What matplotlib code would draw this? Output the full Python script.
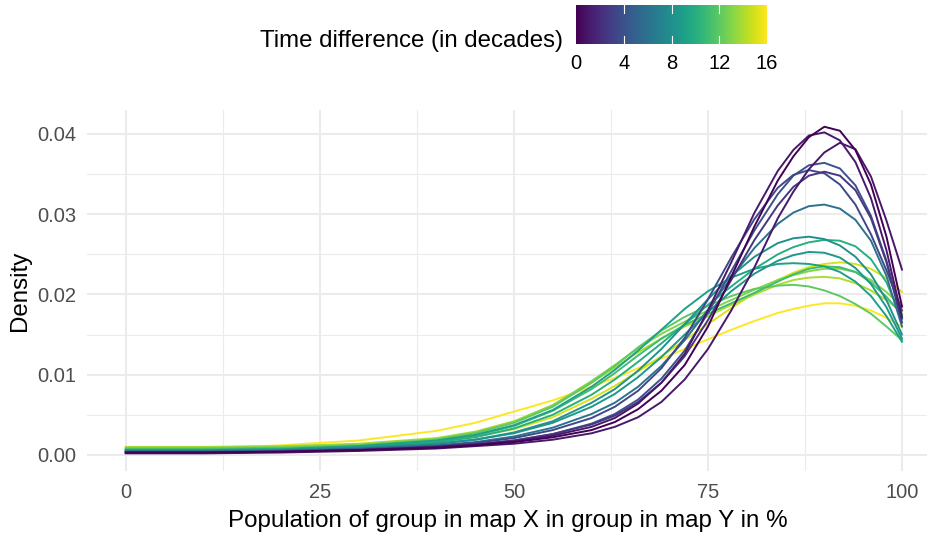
import numpy as np
import matplotlib
matplotlib.use("Agg")
import matplotlib.pyplot as plt

# ---- data (density at shared x positions, in %) ----
share_x = [0, 10, 20, 30, 40, 45, 50, 55, 60, 63, 66, 69, 72, 75, 78, 81, 84, 86, 88, 90, 92, 94, 96, 98, 100]

time_diff = [0, 1, 1, 2.5, 3.5, 4, 6, 8, 8.5, 9, 10, 11, 12, 13, 14, 15, 16]

dens_0 = [.0003, .0003, .0004, .0006, .0009, .0012, .0016, .0022, .0031, .0041, .0057, .0080, .0112, .0160, .0222, .0285, .0342, .0372, .0396, .0409, .0404, .0380, .0337, .0272, .0185]
dens_1 = [.0003, .0003, .0004, .0006, .0010, .0013, .0017, .0024, .0035, .0046, .0064, .0090, .0126, .0180, .0240, .0302, .0354, .0380, .0398, .0402, .0392, .0365, .0320, .0255, .0172]
dens_2 = [.0002, .0002, .0003, .0005, .0008, .0011, .0014, .0019, .0027, .0035, .0047, .0066, .0094, .0132, .0180, .0234, .0295, .0328, .0356, .0377, .0389, .0381, .0347, .0292, .0231]
dens_3 = [.0003, .0003, .0004, .0006, .0010, .0013, .0018, .0026, .0038, .0049, .0066, .0090, .0123, .0168, .0218, .0268, .0311, .0334, .0348, .0353, .0348, .0330, .0295, .0240, .0165]
dens_4 = [.0004, .0004, .0005, .0007, .0011, .0015, .0021, .0031, .0046, .0060, .0080, .0108, .0146, .0194, .0246, .0294, .0333, .0349, .0355, .0351, .0337, .0312, .0275, .0230, .0180]
dens_5 = [.0003, .0003, .0004, .0006, .0010, .0013, .0018, .0026, .0039, .0051, .0069, .0095, .0130, .0177, .0229, .0280, .0325, .0348, .0361, .0364, .0357, .0336, .0298, .0242, .0170]
dens_6 = [.0004, .0004, .0005, .0008, .0012, .0016, .0023, .0034, .0051, .0065, .0085, .0111, .0143, .0181, .0221, .0258, .0288, .0302, .0310, .0312, .0307, .0293, .0267, .0223, .0160]
dens_7 = [.0005, .0005, .0006, .0009, .0014, .0019, .0028, .0042, .0065, .0082, .0105, .0132, .0163, .0194, .0223, .0247, .0264, .0270, .0272, .0269, .0261, .0247, .0225, .0193, .0150]
dens_8 = [.0005, .0005, .0006, .0009, .0014, .0019, .0027, .0040, .0060, .0076, .0097, .0122, .0150, .0178, .0204, .0226, .0242, .0249, .0253, .0252, .0246, .0233, .0213, .0184, .0145]
dens_9 = [.0006, .0006, .0007, .0011, .0018, .0025, .0037, .0056, .0085, .0106, .0130, .0156, .0182, .0204, .0221, .0232, .0238, .0239, .0238, .0235, .0228, .0216, .0198, .0173, .0141]
dens_10 = [.0006, .0006, .0007, .0010, .0016, .0022, .0033, .0050, .0075, .0094, .0116, .0139, .0163, .0187, .0210, .0232, .0250, .0259, .0265, .0268, .0267, .0260, .0244, .0215, .0170]
dens_11 = [.0007, .0007, .0008, .0011, .0017, .0024, .0036, .0055, .0082, .0102, .0124, .0145, .0162, .0176, .0189, .0202, .0216, .0225, .0232, .0235, .0234, .0228, .0215, .0197, .0175]
dens_12 = [.0008, .0008, .0009, .0012, .0019, .0027, .0040, .0060, .0090, .0111, .0134, .0155, .0172, .0186, .0198, .0207, .0211, .0212, .0210, .0205, .0198, .0188, .0176, .0160, .0143]
dens_13 = [.0009, .0009, .0010, .0013, .0020, .0028, .0041, .0062, .0092, .0112, .0133, .0151, .0166, .0180, .0193, .0206, .0218, .0224, .0229, .0232, .0232, .0228, .0218, .0203, .0185]
dens_14 = [.0010, .0010, .0011, .0014, .0021, .0029, .0042, .0062, .0090, .0109, .0128, .0145, .0160, .0173, .0187, .0200, .0212, .0218, .0221, .0222, .0220, .0214, .0205, .0193, .0178]
dens_15 = [.0007, .0007, .0008, .0011, .0017, .0023, .0032, .0047, .0070, .0086, .0104, .0123, .0143, .0163, .0183, .0202, .0218, .0227, .0234, .0238, .0240, .0238, .0232, .0220, .0203]
dens_16 = [.0008, .0009, .0012, .0018, .0030, .0040, .0054, .0068, .0085, .0096, .0108, .0120, .0132, .0144, .0156, .0167, .0177, .0182, .0186, .0189, .0189, .0186, .0180, .0171, .0160]

curves = [dens_0, dens_1, dens_2, dens_3, dens_4, dens_5, dens_6, dens_7, dens_8,
          dens_9, dens_10, dens_11, dens_12, dens_13, dens_14, dens_15, dens_16]

x_ticks = [0, 25, 50, 75, 100]
y_ticks = [0.00, 0.01, 0.02, 0.03, 0.04]
cbar_ticks = [0, 4, 8, 12, 16]

plt.rcParams["font.family"] = ["Liberation Sans", "DejaVu Sans"]

W, H = 928, 533
fig = plt.figure(figsize=(W / 100, H / 100), dpi=100)

# panel: x=0 at px 126, x=100 at px 902; y=0 at px 455, 0.04 at px 134
ax = fig.add_axes([87 / W, 1 - 471.4 / H, (W - 87) / W, (471.4 - 110.3) / H])
ax.set_xlim(-5, (W - 126) / 7.76)
ax.set_ylim(-0.00205, 0.04295)

cmap = plt.get_cmap("viridis")
norm = plt.Normalize(0, 16)
# high time differences first so the dark curves end up on top
for t, d in sorted(zip(time_diff, curves), key=lambda p: -p[0]):
    ax.plot(share_x, d, color=cmap(norm(t)), lw=1.4, solid_joinstyle="round", zorder=3)

ax.set_xticks(x_ticks)
ax.set_xticks([12.5, 37.5, 62.5, 87.5], minor=True)
ax.set_yticks(y_ticks)
ax.set_yticks([0.005, 0.015, 0.025, 0.035], minor=True)
ax.set_yticklabels([f"{v:.2f}" for v in y_ticks])
ax.grid(True, which="major", color="#ebebeb", lw=1.5, zorder=0)
ax.grid(True, which="minor", color="#ebebeb", lw=0.8, zorder=0)
ax.tick_params(which="both", length=0, labelsize=14.5, labelcolor="#4d4d4d", pad=8)
for s in ax.spines.values():
    s.set_visible(False)
ax.set_facecolor("none")
ax.set_xlabel("Population of group in map X in group in map Y in %", fontsize=17.4, labelpad=6)
ax.set_ylabel("Density", fontsize=17.4, labelpad=4)

# colour bar legend on top
cax = fig.add_axes([576 / W, 1 - 44 / H, 191 / W, 39 / H])
grad = np.linspace(0, 16, 256).reshape(1, -1)
cax.imshow(grad, cmap=cmap, norm=norm, aspect="auto", extent=[0, 16, 0, 1])
cax.set_xlim(0, 16)
cax.set_ylim(0, 1)
for t in cbar_ticks[1:-1]:
    cax.plot([t, t], [0, 0.2], color="white", lw=0.8)
    cax.plot([t, t], [0.8, 1], color="white", lw=0.8)
cax.set_yticks([])
cax.set_xticks(cbar_ticks)
cax.tick_params(length=0, labelsize=14.5, labelcolor="black", pad=7)
for s in cax.spines.values():
    s.set_visible(False)
fig.text(563 / W, 1 - 41 / H, "Time difference (in decades)", fontsize=17.3,
         ha="right", va="center")

fig.savefig("out.png", dpi=100)
